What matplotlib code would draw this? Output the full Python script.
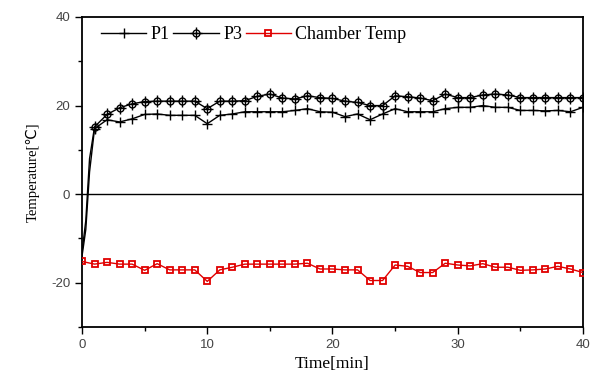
import matplotlib
matplotlib.use("Agg")
import matplotlib.pyplot as plt
from matplotlib.ticker import MultipleLocator

plt.rcParams["axes.unicode_minus"] = False

# Data
t_probe = [0, 0.3, 0.6] + list(range(1, 41))
p1 = [-14, -8, 5,
      14.8, 16.8, 16.3, 17.0, 18.0, 18.1, 17.8, 17.8, 17.8, 15.9,
      17.8, 18.1, 18.6, 18.6, 18.6, 18.6, 18.9, 19.3, 18.6, 18.5,
      17.5, 18.1, 16.8, 18.1, 19.3, 18.6, 18.6, 18.6, 19.3, 19.6,
      19.6, 20.0, 19.6, 19.6, 18.9, 18.9, 18.8, 18.9, 18.6, 19.6]
p3 = [-13, -6, 8,
      15.2, 18.0, 19.5, 20.4, 20.9, 21.0, 21.0, 21.0, 21.0, 19.3,
      21.0, 21.0, 21.1, 22.1, 22.6, 21.7, 21.5, 22.2, 21.8, 21.6,
      21.0, 20.7, 20.0, 20.0, 22.2, 22.0, 21.7, 21.1, 22.6, 21.8,
      21.8, 22.4, 22.6, 22.4, 21.8, 21.8, 21.8, 21.8, 21.8, 21.8]
t_chamber = list(range(0, 41))
chamber = [-15.2, -15.8, -15.4, -15.8, -15.8, -17.2, -15.7, -17.1, -17.1, -17.1, -19.7,
           -17.1, -16.5, -15.8, -15.8, -15.8, -15.8, -15.8, -15.6, -16.9, -16.9,
           -17.1, -17.1, -19.5, -19.5, -16.0, -16.3, -17.7, -17.7, -15.6, -16.0,
           -16.2, -15.7, -16.5, -16.5, -17.2, -17.1, -16.9, -16.3, -16.9, -17.7]
labels = ["P1", "P3", "Chamber Temp"]

fig = plt.figure(figsize=(5.97, 3.81), dpi=100)
ax = fig.add_axes([0.1374, 0.1417, 0.8391, 0.8137])

serif = "Liberation Serif"
sans = "Liberation Sans"

ax.axhline(0, color="black", lw=1.0, zorder=1)
mk = list(range(3, len(t_probe)))
h1, = ax.plot(t_probe, p1, color="black", lw=1.0, marker="+", ms=7, mew=1.0,
              markevery=mk, zorder=3)
h3a, = ax.plot(t_probe, p3, color="black", lw=1.0, marker="o", ms=5, mew=1.0,
               mfc="none", mec="black", markevery=mk, zorder=3)
h3b, = ax.plot(t_probe, p3, color="black", lw=0, marker="+", ms=8, mew=1.0,
               markevery=mk, zorder=3)
hc, = ax.plot(t_chamber, chamber, color="#e00000", lw=1.0, marker="s", ms=5,
              mfc="none", mec="#e00000", mew=1.3, zorder=3)

ax.set_xlim(0, 40)
ax.set_ylim(-30, 40)
ax.xaxis.set_major_locator(MultipleLocator(10))
ax.xaxis.set_minor_locator(MultipleLocator(5))
ax.yaxis.set_major_locator(MultipleLocator(20))
ax.yaxis.set_minor_locator(MultipleLocator(10))
ax.tick_params(which="both", direction="out", top=False, right=False,
               width=1.0, colors="black")
ax.tick_params(which="major", length=5, labelsize=9.5, labelcolor="#444444")
ax.tick_params(which="minor", length=3)
for lab in ax.get_xticklabels() + ax.get_yticklabels():
    lab.set_fontfamily(sans)
for sp in ax.spines.values():
    sp.set_linewidth(1.3)

ax.set_xlabel("Time[min]", fontfamily=serif, fontsize=12.5, labelpad=4)
ax.set_ylabel("Temperature[\u2103]", fontfamily=[serif, "DejaVu Sans"], fontsize=10.5, labelpad=8)

leg = ax.legend([h1, (h3a, h3b), hc], labels, loc="upper left",
                bbox_to_anchor=(0.02, 1.0), ncol=3, frameon=False,
                prop={"family": serif, "size": 13}, handlelength=2.5,
                handletextpad=0.25, columnspacing=0.2, borderaxespad=0.1)

fig.savefig("out.png", dpi=100)
